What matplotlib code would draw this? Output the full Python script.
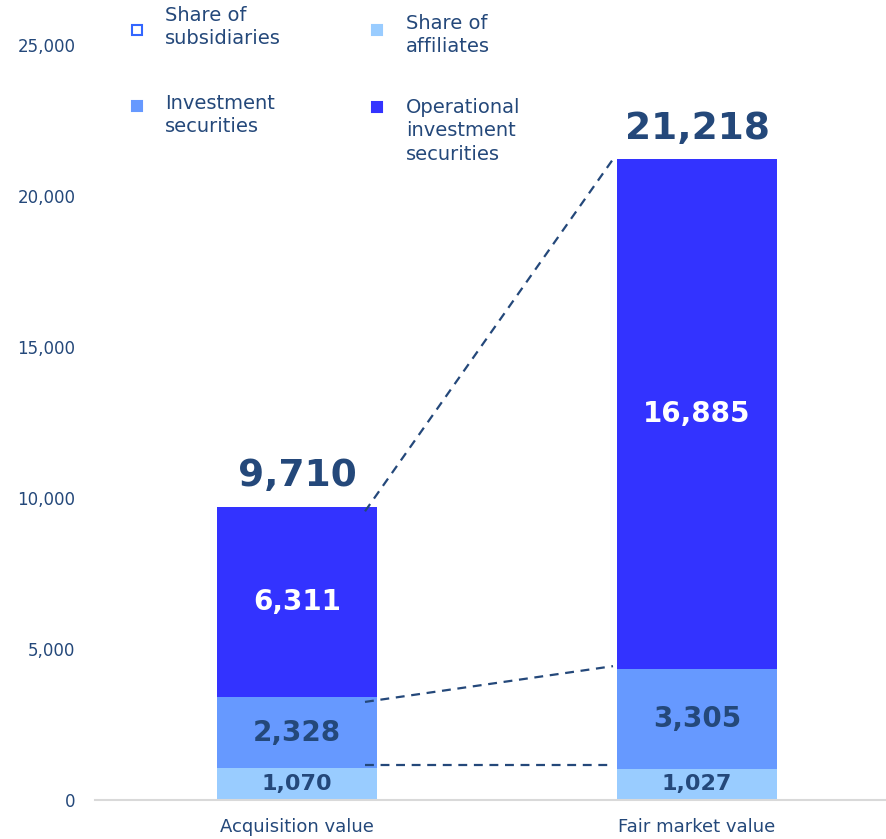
import matplotlib.pyplot as plt
from matplotlib.patches import Rectangle

# values in 100 million yen
categories = ['Acquisition value', 'Fair market value']
affiliates = [1070, 1027]
inv_securities = [2328, 3305]
operational = [6311, 16885]
subsidiaries = [1, 1]
totals = [9710, 21218]

c_aff = '#99CCFF'
c_inv = '#6699FF'
c_ope = '#3333FF'
c_sub = '#3366FF'
navy = '#24487A'

fig = plt.figure(figsize=(8.86, 8.39), dpi=100)
ax = fig.add_axes([95/886, 39/839, 791/886, 755/839])

x = [0, 1]
w = 0.4
b1 = [a + b for a, b in zip(affiliates, inv_securities)]
b2 = [a + b for a, b in zip(b1, operational)]

ax.bar(x, affiliates, w, color=c_aff)
ax.bar(x, inv_securities, w, bottom=affiliates, color=c_inv)
ax.bar(x, operational, w, bottom=b1, color=c_ope)
ax.bar(x, subsidiaries, w, bottom=b2, color='white')

# segment labels
for i in x:
    ax.text(i, affiliates[i] / 2, f'{affiliates[i]:,}', ha='center', va='center',
            fontsize=16, fontweight='bold', color=navy)
    ax.text(i, affiliates[i] + inv_securities[i] / 2, f'{inv_securities[i]:,}',
            ha='center', va='center', fontsize=20, fontweight='bold', color=navy)
    ax.text(i, b1[i] + operational[i] / 2, f'{operational[i]:,}', ha='center',
            va='center', fontsize=20, fontweight='bold', color='white')
    ax.annotate(f'{totals[i]:,}', (i, totals[i]), xytext=(0, 9),
                textcoords='offset points', ha='center', va='bottom',
                fontsize=27, fontweight='bold', color=navy)

# dashed connectors between the bars
dash = dict(color=navy, lw=1.6, linestyle=(0, (4, 3)))
x0, x1 = 0.17, 0.79
ax.plot([x0, x1], [totals[0] - 150, totals[1]], **dash)
ax.plot([x0, x1], [b1[0] - 150, b1[1] + 100], **dash)
ax.plot([x0, x1], [affiliates[0] + 100, affiliates[0] + 100], **dash)

ax.set_xlim(-0.505, 1.4725)
ax.set_ylim(0, 25000)
ax.set_yticks(range(0, 25001, 5000))
ax.yaxis.set_major_formatter(plt.FuncFormatter(lambda v, p: f'{int(v):,}'))
ax.set_xticks(x)
ax.set_xticklabels(categories)
ax.tick_params(axis='y', length=0, pad=14, labelsize=12, labelcolor=navy)
ax.tick_params(axis='x', length=0, pad=13, labelsize=13, labelcolor=navy)
for s in ['top', 'right', 'left']:
    ax.spines[s].set_visible(False)
ax.spines['bottom'].set_color('#D9D9D9')
ax.spines['bottom'].set_linewidth(1.5)

# legend in two columns
entries = [
    (137, 30, 'white', c_sub, 165, 6, 'Share of\nsubsidiaries'),
    (377, 30, c_aff, c_aff, 406, 14, 'Share of\naffiliates'),
    (137, 106, c_inv, c_inv, 165, 94, 'Investment\nsecurities'),
    (377, 107, c_ope, c_ope, 406, 98, 'Operational\ninvestment\nsecurities'),
]
H, W = 839, 886
for mx, my, fc, ec, tx, ty, label in entries:
    fig.patches.append(Rectangle(((mx - 5) / W, (H - my - 5) / H), 10 / W, 10 / H,
                                 transform=fig.transFigure, facecolor=fc,
                                 edgecolor=ec, lw=1.5))
    fig.text(tx / W, (H - ty) / H, label, ha='left', va='top', fontsize=14,
             color=navy, linespacing=1.3)

fig.savefig('out.png', dpi=100)
